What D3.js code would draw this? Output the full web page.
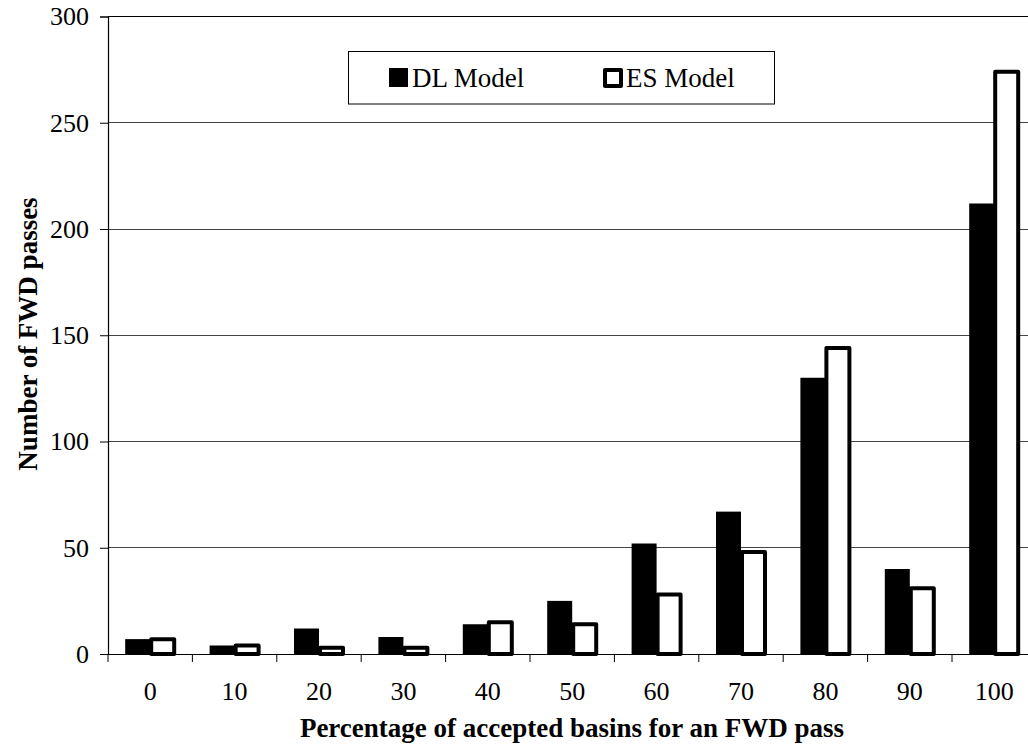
<!DOCTYPE html>
<html>
<head>
<meta charset="utf-8">
<script src="https://cdn.jsdelivr.net/npm/d3@7"></script>
<style>
  html, body { margin: 0; padding: 0; background: #fff; }
  svg { display: block; }
  text { font-family: "Liberation Serif", "Times New Roman", serif; fill: #000; }
</style>
</head>
<body>
<svg id="chart" width="1028" height="754"></svg>
<script>
const categories = ["0", "10", "20", "30", "40", "50", "60", "70", "80", "90", "100"];
const dlValues = [7, 4, 12, 8, 14, 25, 52, 67, 130, 40, 212];
const esValues = [7, 4, 3, 3, 15, 14, 28, 48, 144, 31, 274];
const seriesNames = ["DL Model", "ES Model"];
const yTicks = [0, 50, 100, 150, 200, 250, 300];
const xTitle = "Percentage of accepted basins for an FWD pass";
const yTitle = "Number of FWD passes";

(function () {
const svg = d3.select("#chart");
const pLeft = 108, pRight = 1036.4, pTop = 16.5, pBottom = 654;

const x = d3.scaleBand().domain(categories).range([pLeft, pRight]).padding(0);
const y = d3.scaleLinear().domain([0, 300]).range([pBottom, pTop]);
const barW = 25;

// gridlines
svg.append("g").selectAll("line").data(yTicks.filter(d => d > 0)).join("line")
  .attr("x1", pLeft).attr("x2", pRight)
  .attr("y1", d => y(d)).attr("y2", d => y(d))
  .attr("stroke", d => d === 300 ? "#000" : "#444")
  .attr("stroke-width", d => d === 300 ? 1.5 : 1)
  .attr("shape-rendering", "crispEdges");

// DL bars
svg.append("g").selectAll("rect").data(categories).join("rect")
  .attr("x", (d) => x(d) + x.bandwidth() / 2 - barW)
  .attr("width", barW)
  .attr("y", (d, i) => y(dlValues[i]))
  .attr("height", (d, i) => y(0) - y(dlValues[i]))
  .attr("fill", "#000");

// ES bars
svg.append("g").selectAll("rect").data(categories).join("rect")
  .attr("x", (d) => x(d) + x.bandwidth() / 2 + 1)
  .attr("width", barW - 2)
  .attr("y", (d, i) => y(esValues[i]))
  .attr("height", (d, i) => y(0) - y(esValues[i]))
  .attr("fill", "#fff")
  .attr("stroke", "#000")
  .attr("stroke-width", 4)
  .attr("stroke-linejoin", "round");

// y axis
const yAxis = d3.axisLeft(y).tickValues(yTicks).tickSize(8).tickPadding(11);
const gy = svg.append("g").attr("transform", `translate(${pLeft},0)`).call(yAxis);
gy.select(".domain").attr("stroke", "#000").attr("stroke-width", 1.2);
gy.selectAll(".tick line").attr("stroke", "#000");
gy.selectAll("text").style("font-size", "26px").attr("font-family", "Liberation Serif");

// x axis
const xAxis = d3.axisBottom(x).tickSize(0).tickPadding(28);
const gx = svg.append("g").attr("transform", `translate(0,${pBottom})`).call(xAxis);
gx.select(".domain").attr("stroke", "#000").attr("stroke-width", 1.2);
gx.selectAll("text").style("font-size", "26px").attr("font-family", "Liberation Serif");
gx.append("g").selectAll("line").data(categories).join("line")
  .attr("x1", d => x(d)).attr("x2", d => x(d))
  .attr("y1", 0).attr("y2", 8)
  .attr("stroke", "#000");

// titles
svg.append("text").attr("x", 572).attr("y", 737)
  .attr("text-anchor", "middle")
  .style("font-size", "27px").style("font-weight", "bold")
  .text(xTitle);
svg.append("text")
  .attr("transform", `translate(37,334) rotate(-90)`)
  .attr("text-anchor", "middle")
  .style("font-size", "27px").style("font-weight", "bold")
  .text(yTitle);

// legend
const lg = svg.append("g");
lg.append("rect").attr("x", 348.5).attr("y", 51.5).attr("width", 426).attr("height", 52.5)
  .attr("fill", "#fff").attr("stroke", "#000").attr("stroke-width", 1);
lg.append("rect").attr("x", 389).attr("y", 68).attr("width", 19).attr("height", 19).attr("fill", "#000");
lg.append("text").attr("x", 412).attr("y", 87).style("font-size", "27px").text(seriesNames[0]);
lg.append("rect").attr("x", 605).attr("y", 70).attr("width", 16).attr("height", 16)
  .attr("fill", "#fff").attr("stroke", "#000").attr("stroke-width", 4).attr("stroke-linejoin", "round");
lg.append("text").attr("x", 626).attr("y", 87).style("font-size", "27px").text(seriesNames[1]);
})();
</script>
</body>
</html>
